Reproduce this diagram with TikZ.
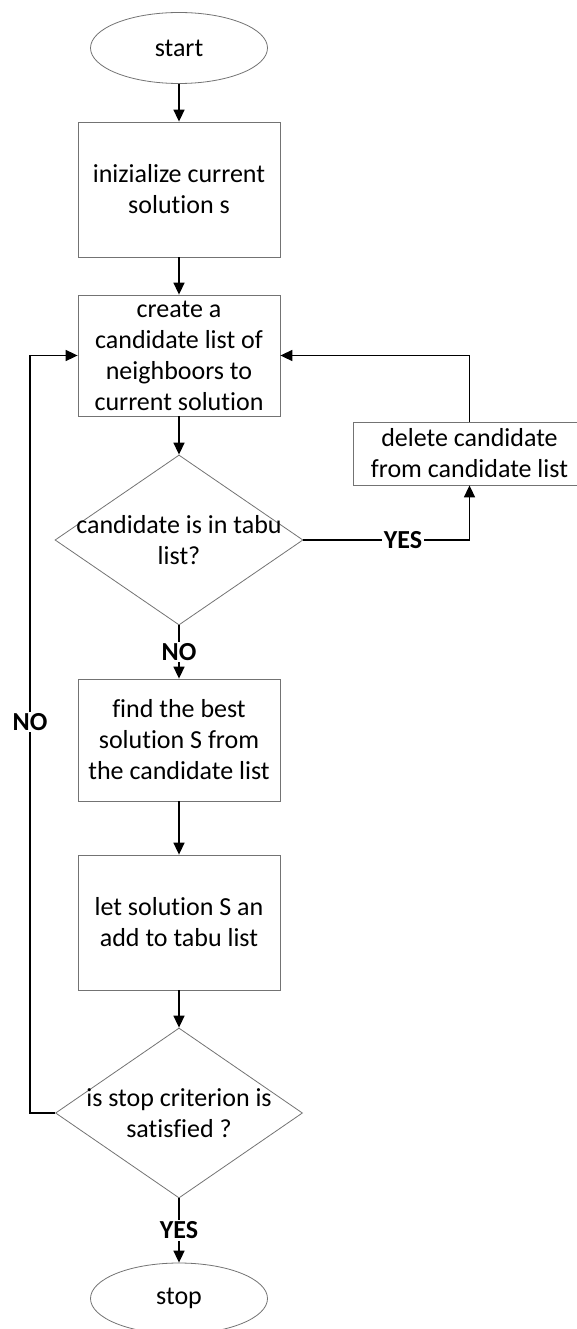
\documentclass[tikz,border=0pt]{standalone}
\usepackage{fontspec}
\setmainfont{Carlito}[Ligatures=NoCommon]
\usetikzlibrary{arrows.meta, shapes.geometric, positioning}

\begin{document}
\begin{tikzpicture}[x=1pt, y=-1pt,
	>={Triangle[length=12pt, width=11pt]},
	font=\fontsize{26}{31}\selectfont,
	terminal/.style={ellipse, draw=black!55, line width=0.8pt, minimum width=177pt, minimum height=71pt, inner sep=0pt},
	process/.style={rectangle, draw=black!55, line width=0.8pt, minimum width=202pt, align=center, inner sep=0pt},
	decision/.style={diamond, draw=black!55, line width=0.8pt, minimum width=248pt, minimum height=170pt, inner sep=0pt},
	flow/.style={->, line width=1.6pt, black},
	answer/.style={font=\fontsize{26}{31}\selectfont\bfseries, fill=white, inner sep=1.5pt}]
	
	% -------------------------------------------------------------------------
	% 1. 画布大小
	% -------------------------------------------------------------------------
	\useasboundingbox (0,0) rectangle (576,1329);
	\def\cx{179}   % 主流程中心线
	
	% -------------------------------------------------------------------------
	% 2. 主流程节点
	% -------------------------------------------------------------------------
	\node[terminal] (start) at (\cx, 48) {start};
	\node[process, minimum height=135pt] (init) at (\cx, 189.5) {inizialize current\\solution s};
	\node[process, minimum height=121pt] (cand) at (\cx, 355.5) {create a\\candidate list of\\neighboors to\\current solution};
	
	% 判断：是否在禁忌表中
	\node[decision] (tabu) at (\cx, 540) {};
	\node[align=center] (tabutext) at (tabu) {candidate is in tabu\\list?};
	
	\node[process, minimum width=233pt, minimum height=63pt] (del) at (469.5, 453.5) {delete candidate\\from candidate list};
	
	\node[process, minimum height=122pt] (best) at (\cx, 740) {find the best\\solution S from\\the candidate list};
	\node[process, minimum height=135pt] (add) at (\cx, 922.5) {let solution S an\\add to tabu list};
	
	% 判断：停止准则
	\node[decision, minimum width=247pt] (crit) at (\cx, 1113) {};
	\node[align=center] (crittext) at (crit) {is stop criterion is\\satisfied ?};
	
	\node[terminal] (stop) at (\cx, 1298.5) {stop};
	
	% -------------------------------------------------------------------------
	% 3. 连接线
	% -------------------------------------------------------------------------
	\draw[flow] (start) -- (init);
	\draw[flow] (init) -- (cand);
	\draw[flow] (cand) -- (tabu);
	\draw[flow] (tabu.east) -| node[answer, pos=0.3] {YES} (del.south);
	\draw[flow] (del.north) |- (cand.east);
	\draw[flow] (tabu) -- node[answer] {NO} (best);
	\draw[flow] (best) -- (add);
	\draw[flow] (add) -- (crit);
	
	% 回到候选列表的循环
	\coordinate (loopL) at (30, 1113);
	\draw[flow] (crit.west) -- (loopL) |- node[answer, pos=0.258] {NO} (cand.west);
	\draw[flow] (crit) -- node[answer] {YES} (stop);
	
\end{tikzpicture}
\end{document}
